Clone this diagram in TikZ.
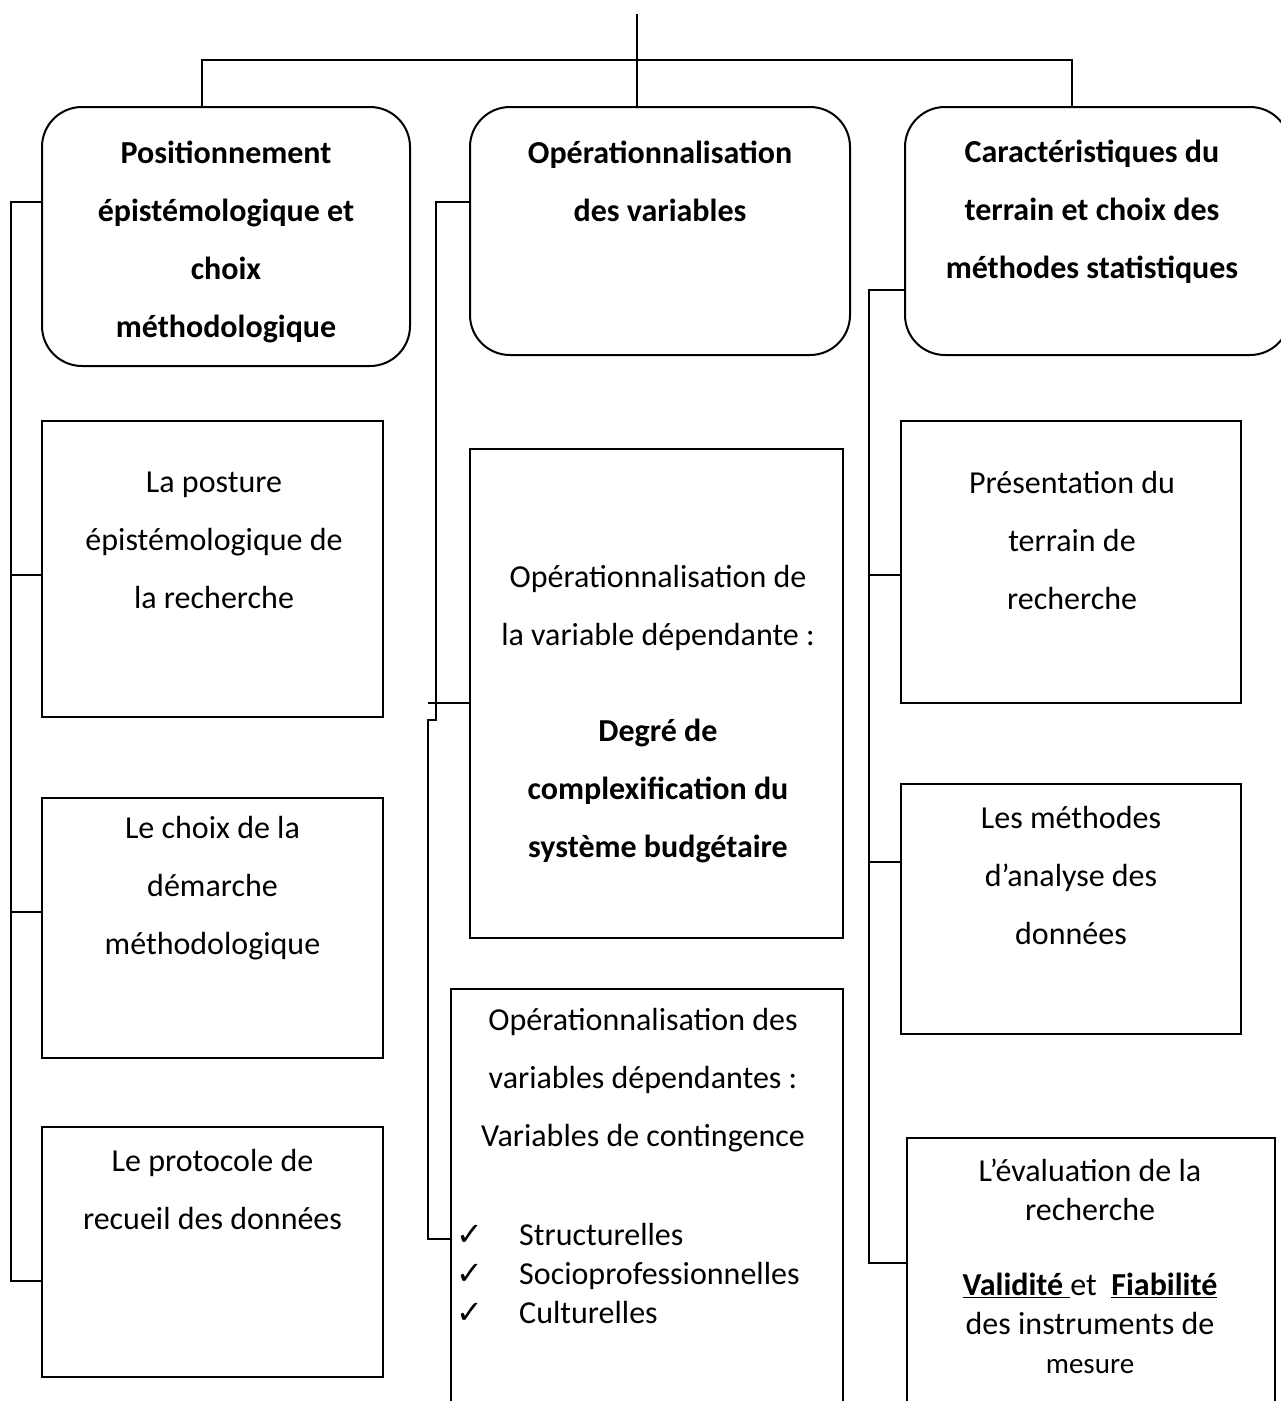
\documentclass[tikz,border=0pt]{standalone}
\usepackage{fontspec}
\setmainfont{Carlito}
\newfontfamily\symbfont{DejaVu Sans}

\tikzset{
  lien/.style={line width=2pt},
  cadre/.style={draw, line width=2pt, inner sep=0pt},
  titre/.style={cadre, rounded corners=40pt},
  texte/.style={align=center, inner sep=0pt, font=\fontsize{32}{58}\selectfont},
  gras/.style={texte, font=\fontsize{32}{58}\selectfont\bfseries},
}

\begin{document}
\begin{tikzpicture}[x=1pt, y=-1pt]
  \useasboundingbox (0,0) rectangle (1281,1401);

  % boites du haut
  \node[titre, minimum width=368pt, minimum height=259pt] (t1) at (226,236.5) {};
  \node[titre, minimum width=380pt, minimum height=248pt] (t2) at (660,231) {};
  \node[titre, minimum width=385pt, minimum height=248pt] (t3) at (1097.5,231) {};

  \node[gras] (t1t) at (226,242) {Positionnement\\épistémologique et\\choix\\méthodologique};
  \node[gras] (t2t) at (660,181) {Opérationnalisation\\des variables};
  \node[gras] (t3t) at (1092,212) {Caractéristiques du\\terrain et choix des\\méthodes statistiques};

  % colonne de gauche
  \node[cadre, minimum width=341pt, minimum height=296pt] (l2) at (212.5,569) {};
  \node[cadre, minimum width=341pt, minimum height=260pt] (l3) at (212.5,928) {};
  \node[cadre, minimum width=341pt, minimum height=250pt] (l4) at (212.5,1252) {};

  \node[texte] (l2t) at (214,540) {La posture\\épistémologique de\\la recherche};
  \node[texte] (l3t) at (212.5,888) {Le choix de la\\démarche\\méthodologique};
  \node[texte] (l4t) at (212.5,1189) {Le protocole de\\recueil des données};

  % colonne du milieu
  \node[cadre, minimum width=373pt, minimum height=489pt] (m2) at (656.5,693.5) {};
  \node[cadre, minimum width=392pt, minimum height=431pt] (m3) at (647,1204.5) {};

  \node[texte] (m2t) at (658,714) {Opérationnalisation de\\la variable dépendante :\\[38pt]
    \textbf{Degré de}\\\textbf{complexification du}\\\textbf{système budgétaire}};
  \node[texte] (m3t) at (643,1080) {Opérationnalisation des\\variables dépendantes :\\Variables de contingence};
  \node[texte, align=left, anchor=west, font=\fontsize{32}{39}\selectfont] (m3l) at (456,1273)
    {\makebox[63pt][l]{\symbfont\fontsize{32}{39}\selectfont ✓}Structurelles\\
     \makebox[63pt][l]{\symbfont\fontsize{32}{39}\selectfont ✓}Socioprofessionnelles\\
     \makebox[63pt][l]{\symbfont\fontsize{32}{39}\selectfont ✓}Culturelles};

  % colonne de droite
  \node[cadre, minimum width=340pt, minimum height=282pt] (r1) at (1071,562) {};
  \node[cadre, minimum width=340pt, minimum height=250pt] (r2) at (1071,909) {};
  \node[cadre, minimum width=368pt, minimum height=282pt] (r3) at (1091,1279) {};

  \node[texte] (r1t) at (1072,540) {Présentation du\\terrain de\\recherche};
  \node[texte] (r2t) at (1071,875) {Les méthodes\\d’analyse des\\données};
  \node[texte, font=\fontsize{32}{39}\selectfont] (r3t) at (1090,1266)
    {L’évaluation de la\\recherche\\[36pt]
     \underline{\textbf{Validité }}et\ \ \underline{\textbf{Fiabilité}}\\
     des instruments de\\{\fontsize{29}{37}\selectfont mesure}};

  % arbre du haut
  \coordinate (haut) at (637,14);
  \draw[lien] (haut) -- (t2.north -| haut);
  \draw[lien] (t1.north -| 202,0) |- (haut |- 0,60) -| (t3.north -| 1072,0);

  % accolade de gauche
  \draw[lien] (t1.west |- 0,202) -- (11,202) |- (l4.west |- 0,1281);
  \draw[lien] (11,575) -- (l2.west |- 0,575);
  \draw[lien] (11,912) -- (l3.west |- 0,912);

  % accolade du milieu
  \draw[lien] (t2.west |- 0,202) -- (436,202) -- (436,720) -- (428,720) |- (m3.west |- 0,1239);
  \draw[lien] (428,703) -- (m2.west |- 0,703);

  % accolade de droite
  \draw[lien] (t3.west |- 0,290) -- (869,290) |- (r3.west |- 0,1263);
  \draw[lien] (869,575) -- (r1.west |- 0,575);
  \draw[lien] (869,862) -- (r2.west |- 0,862);
\end{tikzpicture}
\end{document}
